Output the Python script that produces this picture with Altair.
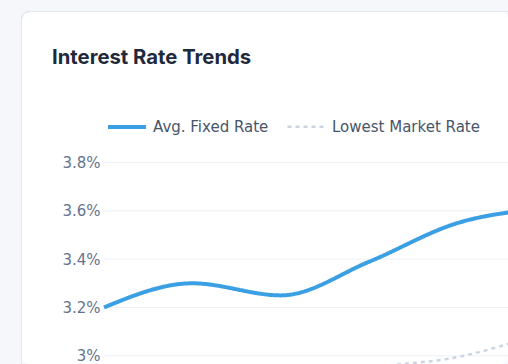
import altair as alt
import pandas as pd

months = ["Jan", "Feb", "Mar", "Apr", "May", "Jun"]
avg_fixed = [3.20, 3.30, 3.25, 3.39, 3.55, 3.61]
lowest_market = [2.85, 2.90, 2.88, 2.95, 2.995, 3.10]
series_names = ["Avg. Fixed Rate", "Lowest Market Rate"]
y_ticks = [3.0, 3.2, 3.4, 3.6, 3.8]
title_text = "Interest Rate Trends"

rows = []
for i, m in enumerate(months):
    rows.append({"idx": i, "month": m, "series": series_names[0], "rate": avg_fixed[i]})
    rows.append({"idx": i, "month": m, "series": series_names[1], "rate": lowest_market[i]})
df = pd.DataFrame(rows)
grid_df = pd.DataFrame({"rate": y_ticks})

PAGE_BG = "#f5f7fa"
W = 487
H = 353
px_per_idx = 88.5
plot_left = 83.0
xmin = -plot_left / px_per_idx
xmax = xmin + W / px_per_idx
px_per_pct = 241.6
ymax = 3.8 + 151.5 / px_per_pct
ymin = ymax - H / px_per_pct

xs = alt.Scale(domain=[xmin, xmax], nice=False, zero=False)
ys = alt.Scale(domain=[ymin, ymax], nice=False, zero=False)

card = alt.Chart(grid_df).mark_rect(fill="white", fillOpacity=0, stroke="#e2e8f0", strokeWidth=1,
                                    cornerRadius=8).encode(
    x=alt.value(0.5), x2=alt.value(W + 30), y=alt.value(0.5), y2=alt.value(H + 30)
)

grid = alt.Chart(grid_df).mark_rule(color="#eef2f6", strokeWidth=1).encode(
    y=alt.Y("rate:Q", scale=ys, axis=alt.Axis(
        values=y_ticks, labelExpr="datum.value == 3 ? '3%' : format(datum.value, '.1f') + '%'",
        offset=-plot_left, grid=False, ticks=False, tickSize=0, domain=False, labelPadding=4,
        labelFont="DejaVu Sans", labelFontSize=15, labelColor="#64748b", title=None)),
    x=alt.value(plot_left),
    x2=alt.value(W),
)

lines = alt.Chart(df).mark_line(interpolate="monotone", clip=True).encode(
    x=alt.X("idx:Q", scale=xs, axis=None),
    y=alt.Y("rate:Q", scale=ys),
    color=alt.Color("series:N", scale=alt.Scale(domain=series_names, range=["#3b9fe3", "#cbd5e1"]),
                    legend=alt.Legend(title=None, orient="none", direction="horizontal",
                                      legendX=85, legendY=95, symbolType="stroke",
                                      symbolSize=1444, labelFont="DejaVu Sans", labelFontSize=15,
                                      labelColor="#475569", labelOffset=5, columnPadding=13,
                                      padding=0)),
    strokeDash=alt.StrokeDash("series:N", scale=alt.Scale(domain=series_names, range=[[1, 0], [4, 4]]), legend=None),
    strokeWidth=alt.StrokeWidth("series:N", scale=alt.Scale(domain=series_names, range=[4, 2.5]), legend=None),
)

chart = alt.layer(grid, lines, card).properties(
    width=W, height=H,
    title=alt.TitleParams(title_text, anchor="start", frame="group", font="Inter", fontSize=20.3,
                          fontWeight="bold", color="#1e293b", dx=31, dy=61, orient="top"),
    autosize=alt.AutoSizeParams(type="none"),
    padding={"left": 21, "top": 11, "right": 0, "bottom": 0},
    background=PAGE_BG,
).configure_view(fill="white", stroke=None, cornerRadius=8)

page_css = ("html, body { margin: 0; padding: 0; overflow: hidden; background: " + PAGE_BG + "; } "
            ".vega-embed { display: block; padding: 0; } .vega-embed svg { display: block; }")

chart.save("out.html", embed_options={"renderer": "svg", "actions": False, "defaultStyle": page_css})
